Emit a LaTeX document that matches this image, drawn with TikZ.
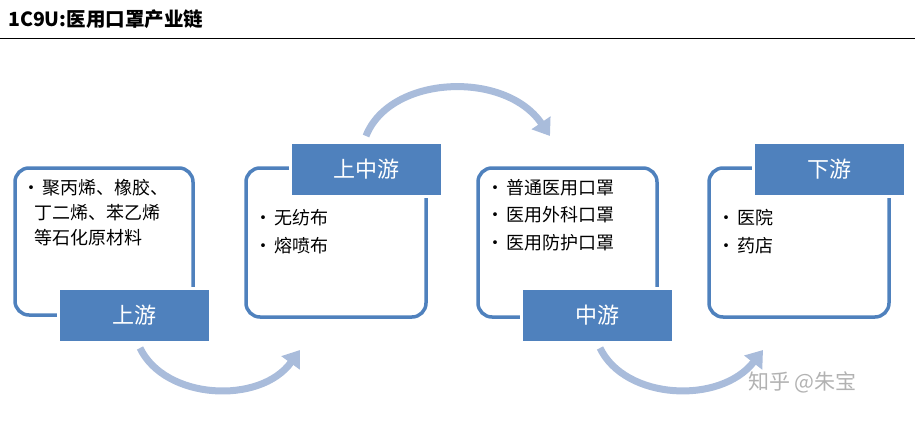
\documentclass[tikz,border=0pt]{standalone}
\usepackage{fontspec}
\setmainfont{Liberation Serif}
\newfontfamily\cjk{Noto Sans CJK SC}
\usetikzlibrary{arrows.meta}
\definecolor{bl}{HTML}{4F81BD}
\definecolor{ar}{HTML}{A9BCDB}
\newcommand{\bul}{\textbullet\hspace{2pt}}
\tikzset{
 frame/.style={draw=bl,line width=3.5pt,rounded corners=14pt},
 lab/.style={fill=bl,draw=white,line width=3pt,text=white,minimum width=152pt,minimum height=54pt,font=\cjk\fontsize{22}{25}\selectfont,inner sep=0},
 txt/.style={anchor=west,font=\cjk\fontsize{18}{21}\selectfont,inner sep=0},
 arr/.style={draw=ar,line width=7pt,-{Triangle[length=16pt,width=22pt]}}
}
\begin{document}
\begin{tikzpicture}[x=1pt,y=-1pt]
\useasboundingbox (0,0) rectangle (915,423);
\node[anchor=west,inner sep=0,font=\cjk\bfseries\fontsize{19.5}{22}\selectfont] (title) at (8,19) {1C9U:医用口罩产业链};
\coordinate (l0) at (0,38); \coordinate (l1) at (915,38);
\draw[line width=1pt] (l0) -- (l1);
% frames
\draw[frame] (15,168) rectangle (193,315);
\draw[frame] (246,168) rectangle (426,317);
\draw[frame] (478,168) rectangle (657,317);
\draw[frame] (709,168) rectangle (889,317);
\node[lab] (a) at (134,315) {上游};
\node[lab] (b) at (366,169) {上中游};
\node[lab] (c) at (597,315) {中游};
\node[lab] (d) at (829,169) {下游};
% texts
\node[txt] (t1) at (22,188) {\bul 聚丙烯、橡胶、};
\node[txt] (t2) at (34,213) {丁二烯、苯乙烯};
\node[txt] (t3) at (34,238) {等石化原材料};
\node[txt] (u1) at (254,218) {\bul 无纺布};
\node[txt] (u2) at (254,246) {\bul 熔喷布};
\node[txt] (v1) at (486,188) {\bul 普通医用口罩};
\node[txt] (v2) at (486,215) {\bul 医用外科口罩};
\node[txt] (v3) at (486,243) {\bul 医用防护口罩};
\node[txt] (w1) at (717,218) {\bul 医院};
\node[txt] (w2) at (717,246) {\bul 药店};
% arrows
\draw[arr] (140,348) .. controls (165,400) and (260,405) .. (300,350);
\draw[arr] (366,136) .. controls (390,75) and (505,70) .. (550,136);
\draw[arr] (600,348) .. controls (625,400) and (720,405) .. (763,350);
\node[anchor=west,inner sep=0,text=gray!60,font=\cjk\fontsize{21}{24}\selectfont] (wm) at (748,382) {知乎 @朱宝};
\end{tikzpicture}
\end{document}
